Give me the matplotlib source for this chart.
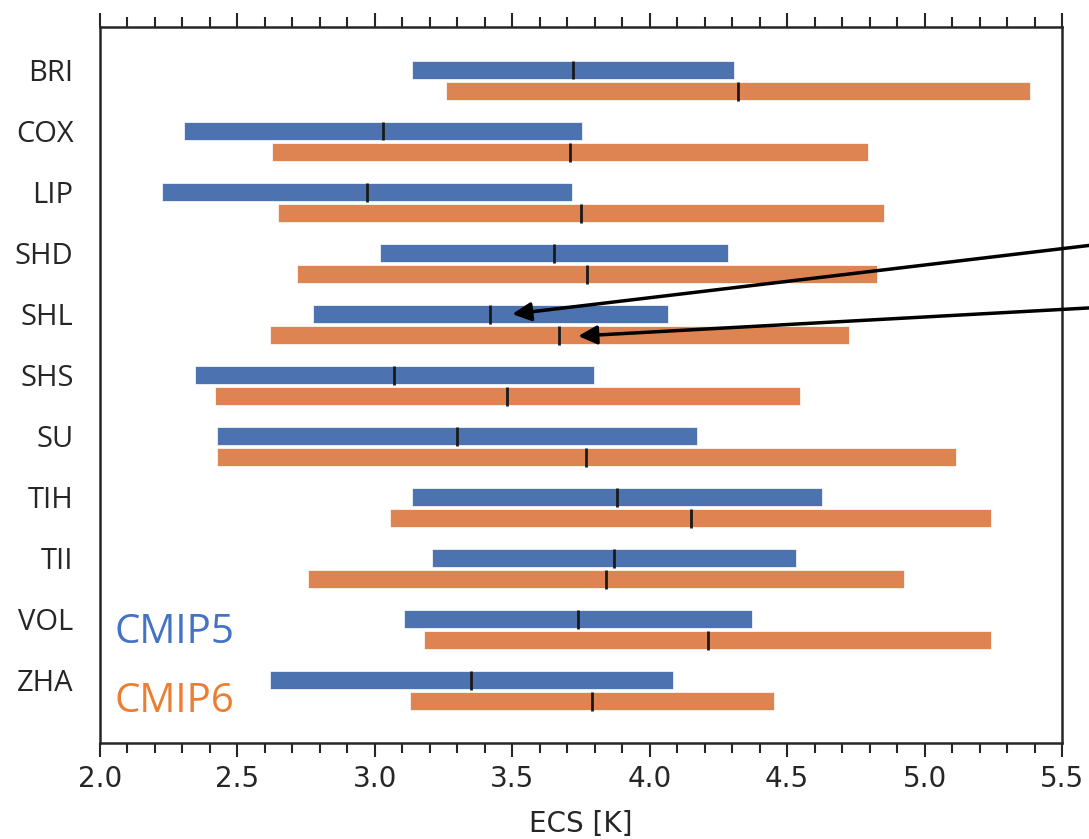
import matplotlib
matplotlib.use("Agg")
import matplotlib.pyplot as plt
from matplotlib.ticker import MultipleLocator

# model names and ECS ranges (low, median, high) in K
models = ['BRI', 'COX', 'LIP', 'SHD', 'SHL', 'SHS', 'SU', 'TIH', 'TII', 'VOL', 'ZHA']

cmip5_low = [3.135, 2.306, 2.226, 3.019, 2.775, 2.346, 2.426, 3.135, 3.208, 3.106, 2.618]
cmip5_med = [3.721, 3.030, 2.971, 3.652, 3.419, 3.070, 3.299, 3.881, 3.870, 3.739, 3.350]
cmip5_high = [4.307, 3.754, 3.717, 4.285, 4.067, 3.797, 4.172, 4.627, 4.532, 4.372, 4.085]

cmip6_low = [3.259, 2.626, 2.648, 2.717, 2.618, 2.418, 2.426, 3.055, 2.757, 3.179, 3.128]
cmip6_med = [4.321, 3.710, 3.750, 3.772, 3.670, 3.481, 3.768, 4.150, 3.841, 4.212, 3.790]
cmip6_high = [5.384, 4.794, 4.852, 4.827, 4.725, 4.547, 5.114, 5.242, 4.925, 5.242, 4.452]

c5 = '#4c72b0'
c6 = '#dd8452'
off6 = 0.345
h = 0.29

fig = plt.figure(figsize=(10.89, 8.39), dpi=100)
ax = fig.add_axes([100 / 1089, 1 - 743 / 839, 962 / 1089, 716 / 839])

for i, m in enumerate(models):
    ax.barh(i, cmip5_high[i] - cmip5_low[i], left=cmip5_low[i], height=h,
            color=c5, edgecolor='white', linewidth=0.5)
    ax.barh(i + off6, cmip6_high[i] - cmip6_low[i], left=cmip6_low[i], height=h,
            color=c6, edgecolor='white', linewidth=0.5)
    ax.vlines(cmip5_med[i], i - h / 2 - 0.01, i + h / 2 + 0.01, color='#1a1a1a', lw=2)
    ax.vlines(cmip6_med[i], i + off6 - h / 2 - 0.01, i + off6 + h / 2 + 0.01, color='#1a1a1a', lw=2)

ax.set_xlim(2.0, 5.5)
ax.set_ylim(11.03, -0.705)
ax.set_yticks(range(len(models)))
ax.set_yticklabels(models, family='Open Sans', fontsize=21)

ax.xaxis.set_major_locator(MultipleLocator(0.5))
ax.xaxis.set_minor_locator(MultipleLocator(0.1))
ax.tick_params(axis='x', which='major', direction='out', length=10, width=1.5,
               top=True, labeltop=False, labelsize=20, pad=6, color='#262626', labelcolor='#262626')
ax.tick_params(axis='x', which='minor', direction='out', length=7, width=1.5,
               top=True, color='#262626')
ax.tick_params(axis='y', length=0, pad=19, labelcolor='#262626')
for s in ax.spines.values():
    s.set_linewidth(1.8)
    s.set_color('#262626')

ax.set_xlabel('ECS [K]', fontsize=20, color='#262626', labelpad=12)

ax.text(0.015, 0.1397, 'CMIP5', transform=ax.transAxes, fontsize=29, color='#4472c4',
        family='Open Sans', ha='left', va='baseline')
ax.text(0.015, 0.0433, 'CMIP6', transform=ax.transAxes, fontsize=29, color='#ed7d31',
        family='Open Sans', ha='left', va='baseline')

ax.annotate('', xy=(3.5, 4.0), xytext=(6.0, 2.66), annotation_clip=False,
            arrowprops=dict(arrowstyle='-|>', lw=2.5, color='k', mutation_scale=28,
                            shrinkA=0, shrinkB=0))
ax.annotate('', xy=(3.74, 4.36), xytext=(6.0, 3.80), annotation_clip=False,
            arrowprops=dict(arrowstyle='-|>', lw=2.5, color='k', mutation_scale=28,
                            shrinkA=0, shrinkB=0))

fig.savefig('out.png', dpi=100)
